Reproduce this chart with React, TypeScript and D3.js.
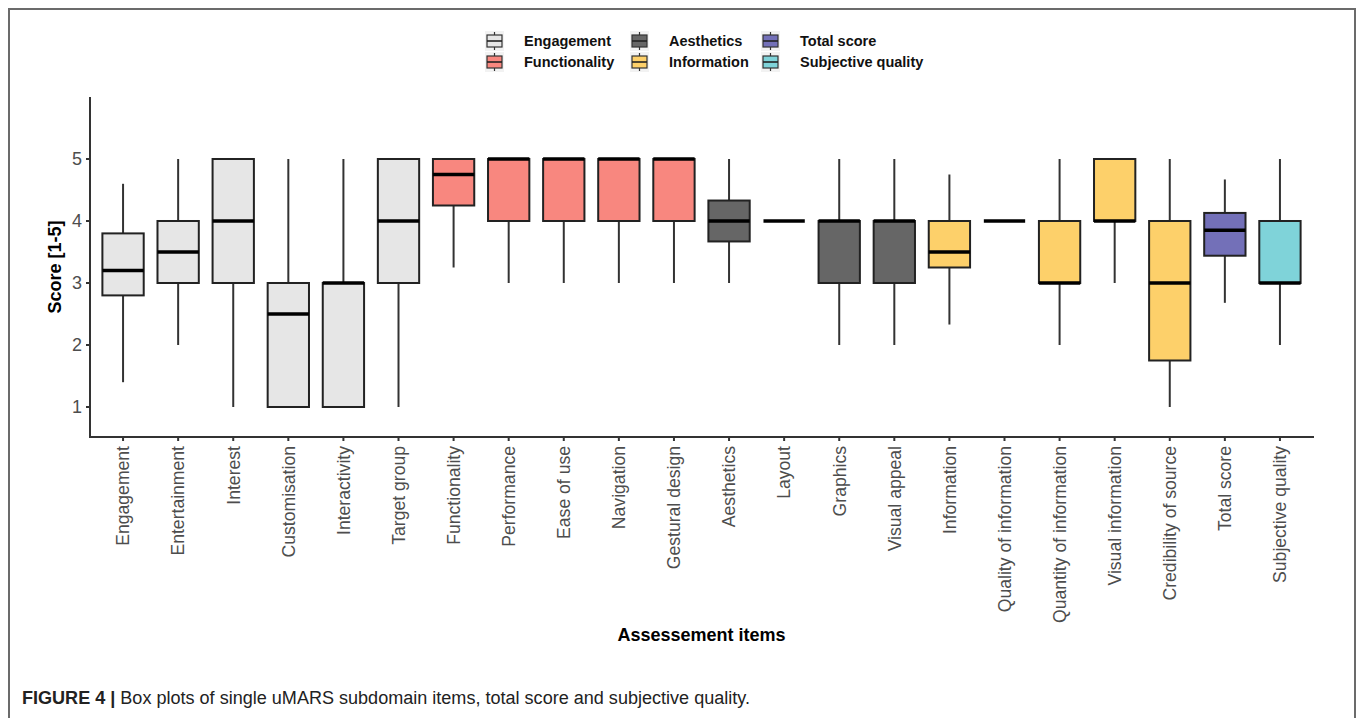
import React from 'react';
import * as d3 from 'd3';

const categories = [
  'Engagement', 'Entertainment', 'Interest', 'Customisation', 'Interactivity', 'Target group',
  'Functionality', 'Performance', 'Ease of use', 'Navigation', 'Gestural design',
  'Aesthetics', 'Layout', 'Graphics', 'Visual appeal',
  'Information', 'Quality of information', 'Quantity of information', 'Visual information', 'Credibility of source',
  'Total score', 'Subjective quality',
];
const groups = [
  'Engagement', 'Engagement', 'Engagement', 'Engagement', 'Engagement', 'Engagement',
  'Functionality', 'Functionality', 'Functionality', 'Functionality', 'Functionality',
  'Aesthetics', 'Aesthetics', 'Aesthetics', 'Aesthetics',
  'Information', 'Information', 'Information', 'Information', 'Information',
  'Total score', 'Subjective quality',
];
const whiskerLow = [1.4, 2, 1, 1, 1, 1, 3.25, 3, 3, 3, 3, 3, 4, 2, 2, 2.33, 4, 2, 3, 1, 2.68, 2];
const q1 = [2.8, 3, 3, 1, 1, 3, 4.25, 4, 4, 4, 4, 3.67, 4, 3, 3, 3.25, 4, 3, 4, 1.75, 3.44, 3];
const median = [3.2, 3.5, 4, 2.5, 3, 4, 4.75, 5, 5, 5, 5, 4, 4, 4, 4, 3.5, 4, 3, 4, 3, 3.85, 3];
const q3 = [3.8, 4, 5, 3, 3, 5, 5, 5, 5, 5, 5, 4.33, 4, 4, 4, 4, 4, 4, 5, 4, 4.13, 4];
const whiskerHigh = [4.6, 5, 5, 5, 5, 5, 5, 5, 5, 5, 5, 5, 4, 5, 5, 4.75, 4, 5, 5, 5, 4.67, 5];

const legendGroups = ['Engagement', 'Functionality', 'Aesthetics', 'Information', 'Total score', 'Subjective quality'];
const groupColors = ['#e6e6e6', '#f8877f', '#666666', '#fdd06a', '#7370b8', '#7fd3d9'];
const yTicks = [1, 2, 3, 4, 5];

const FONT = '"Liberation Sans", Arial, Helvetica, sans-serif';

export default function App() {
  const W = 1358;
  const H = 718;
  const left = 90, right = 1313, top = 97, bottom = 437;

  const x = d3.scalePoint<string>().domain(categories).range([left, right]).padding(0.6);
  const y = d3.scaleLinear().domain([0.516, 6]).range([bottom, top]);
  const color = d3.scaleOrdinal<string, string>().domain(legendGroups).range(groupColors);
  const bw = x.step() * 0.75;

  // legend: 3 columns x 2 rows, filled column by column
  const legendCols = [487, 632, 763];
  const legendRows = [41, 62];

  return (
    <svg width={W} height={H} style={{ position: 'absolute', left: 0, top: 0, background: '#fff' }} fontFamily={FONT}>
      {/* figure frame */}
      <path d={`M9,${H} V9 H1355 V${H}`} fill="none" stroke="#6b6b6b" strokeWidth={2} />

      {/* legend */}
      {legendGroups.map((g, i) => {
        const cx = legendCols[Math.floor(i / 2)];
        const cy = legendRows[i % 2];
        return (
          <g key={g}>
            <rect x={cx - 2} y={cy - 10} width={19} height={20} fill="#f2f2f2" />
            <line x1={cx + 7.5} x2={cx + 7.5} y1={cy - 9} y2={cy + 9} stroke="#333" strokeWidth={1.2} />
            <rect x={cx} y={cy - 6} width={15} height={12} fill={color(g)} stroke="#333" strokeWidth={1.2} />
            <line x1={cx} x2={cx + 15} y1={cy} y2={cy} stroke="#222" strokeWidth={1.6} />
            <text x={cx + 37} y={cy} dy="0.36em" fontSize={14.5} fontWeight="bold" fill="#111">{g}</text>
          </g>
        );
      })}

      {/* boxes */}
      {categories.map((c, i) => {
        const cx = x(c) as number;
        const fill = color(groups[i]);
        return (
          <g key={c}>
            <line x1={cx} x2={cx} y1={y(whiskerHigh[i])} y2={y(q3[i])} stroke="#333" strokeWidth={2} />
            <line x1={cx} x2={cx} y1={y(q1[i])} y2={y(whiskerLow[i])} stroke="#333" strokeWidth={2} />
            <rect
              x={cx - bw / 2}
              y={y(q3[i])}
              width={bw}
              height={Math.max(0, y(q1[i]) - y(q3[i]))}
              fill={fill}
              stroke="#222"
              strokeWidth={2}
            />
            <line x1={cx - bw / 2} x2={cx + bw / 2} y1={y(median[i])} y2={y(median[i])} stroke="#000" strokeWidth={3.5} />
          </g>
        );
      })}

      {/* y axis */}
      <line x1={left} x2={left} y1={top} y2={bottom + 1} stroke="#333" strokeWidth={2} />
      {yTicks.map((t) => (
        <g key={t}>
          <line x1={left - 4} x2={left} y1={y(t)} y2={y(t)} stroke="#333" strokeWidth={2} />
          <text x={left - 8} y={y(t)} dy="0.36em" textAnchor="end" fontSize={18} fill="#4d4d4d">{t}</text>
        </g>
      ))}

      {/* x axis */}
      <line x1={left - 1} x2={right + 1} y1={bottom} y2={bottom} stroke="#333" strokeWidth={2} />
      {categories.map((c) => {
        const cx = x(c) as number;
        return (
          <g key={c}>
            <line x1={cx} x2={cx} y1={bottom} y2={bottom + 4} stroke="#333" strokeWidth={2} />
            <text
              transform={`translate(${cx},${bottom + 9}) rotate(-90)`}
              dy="0.36em"
              textAnchor="end"
              fontSize={17.6}
              fill="#4d4d4d"
            >
              {c}
            </text>
          </g>
        );
      })}

      {/* axis titles */}
      <text transform={`translate(61,${(top + bottom) / 2}) rotate(-90)`} textAnchor="middle" fontSize={18} fontWeight="bold" fill="#000">
        Score [1-5]
      </text>
      <text x={(left + right) / 2} y={641} textAnchor="middle" fontSize={18} fontWeight="bold" fill="#000">
        Assessement items
      </text>

      {/* caption */}
      <text x={22} y={704} fontSize={18} fill="#222" textLength={728} lengthAdjust="spacingAndGlyphs">
        <tspan fontWeight="bold">FIGURE 4 | </tspan>
        <tspan>Box plots of single uMARS subdomain items, total score and subjective quality.</tspan>
      </text>
    </svg>
  );
}
